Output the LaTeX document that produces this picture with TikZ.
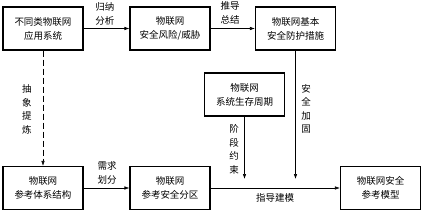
\documentclass[tikz,border=0pt]{standalone}
\usepackage{fontspec}
\setmainfont{Noto Sans CJK SC}
\usetikzlibrary{arrows.meta}

\begin{document}
\begin{tikzpicture}[x=1pt,y=-1pt,
    box/.style={draw, line width=1.1pt, minimum width=80pt, minimum height=43pt,
      align=center, inner sep=0pt, font=\fontsize{9.5}{14}\selectfont},
    link/.style={line width=0.6pt, -{Latex[length=5pt,width=3.5pt]}},
    lbl/.style={align=center, inner sep=0pt, font=\fontsize{9.5}{13.5}\selectfont}]
  \useasboundingbox (0,0) rectangle (424,214);

  % top row
  \node[box] (apps)    at (43,28.5)  {不同类物联网\\应用系统};
  \node[box] (risk)    at (170,28.5) {物联网\\安全风险/威胁};
  \node[box] (measure) at (295.5,28.5) {物联网基本\\安全防护措施};

  % middle
  \node[box] (cycle) at (244.5,94.5) {物联网\\系统生存周期};

  % bottom row
  \node[box] (arch)  at (43,188)    {物联网\\参考体系结构};
  \node[box] (zone)  at (170,188)   {物联网\\参考安全分区};
  \node[box] (model) at (380.5,188) {物联网安全\\参考模型};

  \coordinate (cycleEnd)   at (cycle.center |- 0,179);
  \coordinate (measureEnd) at (measure.center |- 0,179);

  % connectors
  \draw[link] (apps) -- (risk);
  \draw[link] (risk) -- (measure);
  \draw[link, dash pattern=on 6pt off 3pt] (apps) -- (arch);
  \draw[link] (arch) -- (zone);
  \draw[link] (zone) -- (model);
  \draw[link] (cycle) -- (cycleEnd);
  \draw[link] (measure) -- (measureEnd);

  % labels
  \node[lbl] (lblInduce) at (105,14)   {归纳\\分析};
  \node[lbl] (lblDerive) at (230,13)   {推导\\总结};
  \node[lbl] (lblAbstr)  at (27,109.5) {抽\\象\\提\\炼};
  \node[lbl] (lblHarden) at (306,109)  {安\\全\\加\\固};
  \node[lbl] (lblStage)  at (234,149.5) {阶\\段\\约\\束};
  \node[lbl] (lblNeed)   at (107,173)  {需求\\划分};
  \node[lbl] (lblGuide)  at (275,198)  {指导建模};
\end{tikzpicture}
\end{document}
